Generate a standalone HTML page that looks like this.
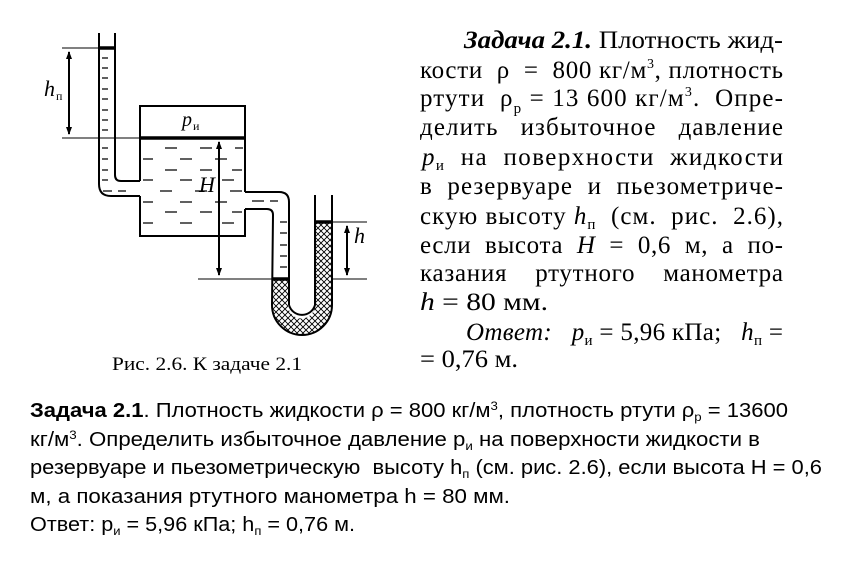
<!DOCTYPE html>
<html><head><meta charset="utf-8"><style>
html,body{margin:0;padding:0;background:#fff;width:856px;height:564px;overflow:hidden}
.sr{font-family:"Liberation Serif","DejaVu Serif",serif}
.ss{font-family:"Liberation Sans","DejaVu Sans",sans-serif}
text{white-space:pre}
</style></head><body>
<svg width="856" height="564" viewBox="0 0 856 564" xmlns="http://www.w3.org/2000/svg">
<defs>
<pattern id="hx" width="6" height="6" patternUnits="userSpaceOnUse">
<path d="M0,0 L6,6 M6,0 L0,6" stroke="#000" stroke-width="0.9"/>
</pattern>
<marker id="ar" markerWidth="8" markerHeight="10" refX="7" refY="4" orient="auto" markerUnits="userSpaceOnUse">
<path d="M0,1 L8,4 L0,7 Z" fill="#000"/>
</marker>
</defs>
<g fill="none" stroke="#000" stroke-width="2">
<path d="M272,280 L272,305 A30,30 0 0 0 332,305 L332,222 L315,222 L315,305 A13.5,13.5 0 0 1 288,305 L288,280 Z" fill="url(#hx)" stroke="none"/>
<path d="M99,33 L99,184 Q99,196 111,196 L140,196"/>
<path d="M115,33 L115,175 Q115,181 121,181 L140,181"/>
<path d="M140,181 L140,106 L245,106 L245,192"/>
<path d="M140,196 L140,236 L245,236 L245,209"/>
<path d="M245,192 L279,192 Q289,192 289,202 L289,305"/>
<path d="M245,209 L267,209 Q273,209 273,215 L272,305"/>
<path d="M272,305 A30,30 0 0 0 332,305 L332,195"/>
<path d="M289,305 A13.5,13.5 0 0 0 315,305 L315,195"/>
</g>
<g stroke="#000" stroke-width="3.5">
<line x1="99" y1="48" x2="115" y2="48"/>
<line x1="140" y1="138" x2="245" y2="138"/>
<line x1="272" y1="279" x2="289" y2="279"/>
<line x1="315" y1="222" x2="332" y2="222"/>
</g>
<g stroke="#000" stroke-width="1">
<line x1="62" y1="48" x2="99" y2="48"/>
<line x1="62" y1="138" x2="140" y2="138"/>
<line x1="198" y1="279" x2="272" y2="279"/>
<line x1="332" y1="222" x2="367" y2="222"/>
<line x1="332" y1="279" x2="367" y2="279"/>
</g>
<g stroke="#000" stroke-width="2">
<line x1="69" y1="90" x2="69" y2="52" marker-end="url(#ar)"/>
<line x1="69" y1="90" x2="69" y2="134" marker-end="url(#ar)"/>
<line x1="219" y1="230" x2="219" y2="142" marker-end="url(#ar)"/>
<line x1="219" y1="230" x2="219" y2="275" marker-end="url(#ar)"/>
<line x1="347" y1="250" x2="347" y2="226" marker-end="url(#ar)"/>
<line x1="347" y1="250" x2="347" y2="275" marker-end="url(#ar)"/>
</g>
<g stroke="#000" stroke-width="1.3">
<path d="M102,58h6M102,68h6M102,78h6M102,89h6M102,99h6M102,110h6M102,120h6M102,130h6M102,148h6M102,159h6M102,170h6M102,180h6"/>
<path d="M103,191h9M118,191h8"/>
<path d="M165,148h12M200,148h12M235,148h8"/>
<path d="M143,159h10M180,159h12M215,159h12"/>
<path d="M165,170h12M200,170h12M232,170h10"/>
<path d="M143,180h10M180,180h12M222,180h12"/>
<path d="M160,191h12M195,191h12M230,191h12"/>
<path d="M143,202h10M180,202h12M215,202h12M252,201h12M270,201h8"/>
<path d="M165,212h12M200,212h12M232,212h10"/>
<path d="M143,223h10M180,223h12M222,223h12"/>
<path d="M280,222h7M280,233h7M280,245h7M280,256h7M280,267h7"/>
</g>
<g class="sr" font-style="italic" fill="#000">
<text x="44" y="96" font-size="22">h</text><text x="56" y="100" font-size="12" font-style="normal">п</text>
<text x="182" y="126" font-size="20">p</text><text x="193" y="130" font-size="12" font-style="normal">и</text>
<text x="199" y="192" font-size="22">H</text>
<text x="354" y="243" font-size="22">h</text>
</g>
<text class="sr" x="112" y="370" font-size="19" textLength="190" lengthAdjust="spacingAndGlyphs">Рис. 2.6. К задаче 2.1</text>
<g class="sr" font-size="25" fill="#000">
<text x="464" y="48" textLength="319" lengthAdjust="spacingAndGlyphs"><tspan font-weight="bold" font-style="italic">Задача 2.1.</tspan> Плотность жид-</text>
<text x="420" y="78" textLength="363" lengthAdjust="spacing">кости  ρ  =  800 кг/м<tspan dy="-10" font-size="14">3</tspan><tspan dy="10">, плотность</tspan></text>
<text x="420" y="106" textLength="363" lengthAdjust="spacing">ртути  ρ<tspan dy="7" font-size="15">р</tspan><tspan dy="-7"> = 13 600 кг/м</tspan><tspan dy="-10" font-size="14">3</tspan><tspan dy="10">.  Опре-</tspan></text>
<text x="420" y="135" textLength="363" lengthAdjust="spacing">делить   избыточное   давление</text>
<text x="422" y="165" textLength="361" lengthAdjust="spacing"><tspan font-style="italic">p</tspan><tspan dy="5" font-size="15">и</tspan><tspan dy="-5">  на  поверхности  жидкости</tspan></text>
<text x="420" y="194" textLength="363" lengthAdjust="spacing">в  резервуаре  и  пьезометриче-</text>
<text x="420" y="224" textLength="363" lengthAdjust="spacing">скую высоту <tspan font-style="italic">h</tspan><tspan dy="5" font-size="15">п</tspan><tspan dy="-5">  (см.  рис.  2.6),</tspan></text>
<text x="420" y="253" textLength="363" lengthAdjust="spacing">если  высота  <tspan font-style="italic">H</tspan>  =  0,6  м,  а  по-</text>
<text x="420" y="281" textLength="363" lengthAdjust="spacing">казания    ртутного    манометра</text>
<text x="420" y="310" textLength="128" lengthAdjust="spacingAndGlyphs"><tspan font-style="italic">h</tspan> = 80 мм.</text>
<text x="466" y="340" textLength="317" lengthAdjust="spacing"><tspan font-style="italic">Ответ:</tspan>   <tspan font-style="italic">p</tspan><tspan dy="5" font-size="15">и</tspan><tspan dy="-5"> = 5,96 кПа;   </tspan><tspan font-style="italic">h</tspan><tspan dy="5" font-size="15">п</tspan><tspan dy="-5"> =</tspan></text>
<text x="420" y="367" textLength="98" lengthAdjust="spacingAndGlyphs">= 0,76 м.</text>
</g>
<g class="ss" font-size="20" fill="#000">
<text x="30" y="417" textLength="758" lengthAdjust="spacingAndGlyphs"><tspan font-weight="bold">Задача 2.1</tspan>. Плотность жидкости ρ = 800 кг/м<tspan dy="-7" font-size="12">3</tspan><tspan dy="7">, плотность ртути ρ</tspan><tspan dy="4" font-size="12">р</tspan><tspan dy="-4"> = 13600</tspan></text>
<text x="30" y="446" textLength="730" lengthAdjust="spacingAndGlyphs">кг/м<tspan dy="-7" font-size="12">3</tspan><tspan dy="7">. Определить избыточное давление р</tspan><tspan dy="4" font-size="12">и</tspan><tspan dy="-4"> на поверхности жидкости в</tspan></text>
<text x="30" y="474" textLength="792" lengthAdjust="spacingAndGlyphs">резервуаре и пьезометрическую  высоту h<tspan dy="4" font-size="12">п</tspan><tspan dy="-4"> (см. рис. 2.6), если высота Н = 0,6</tspan></text>
<text x="30" y="503" textLength="480" lengthAdjust="spacingAndGlyphs">м, а показания ртутного манометра h = 80 мм.</text>
<text x="30" y="531" textLength="325" lengthAdjust="spacingAndGlyphs">Ответ: р<tspan dy="4" font-size="12">и</tspan><tspan dy="-4"> = 5,96 кПа; h</tspan><tspan dy="4" font-size="12">п</tspan><tspan dy="-4"> = 0,76 м.</tspan></text>
</g>
</svg>
</body></html>
